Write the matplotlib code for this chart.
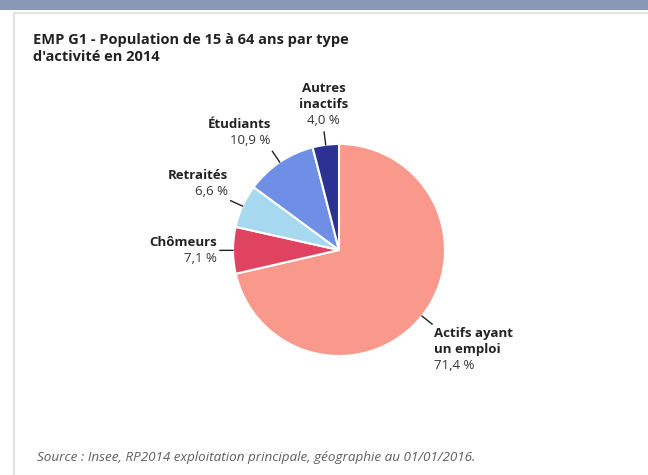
import numpy as np
import matplotlib
matplotlib.use('Agg')
import matplotlib.pyplot as plt
from matplotlib.patches import Rectangle

plt.rcParams['font.family'] = ['Open Sans', 'DejaVu Sans']

labels = ['Actifs ayant\nun emploi', 'Chômeurs', 'Retraités', 'Étudiants', 'Autres\ninactifs']
values = [71.4, 7.1, 6.6, 10.9, 4.0]
colors = ['#f9998b', '#e0435f', '#a6d8ef', '#6f8fe6', '#2d3193']

W, H = 648, 475
fig = plt.figure(figsize=(W / 100, H / 100), dpi=100, facecolor='white')
ax = fig.add_axes([0, 0, 1, 1])
ax.set_xlim(0, W)
ax.set_ylim(0, H)
ax.set_aspect('equal')
ax.axis('off')


def py(y):
    # pixel row (top-down) to axis y
    return H - y


# page header band and card frame
ax.add_patch(Rectangle((0, py(10)), W, 10, color='#8899b7', lw=0, zorder=0))
ax.add_patch(Rectangle((14, py(490)), W + 10, 477, facecolor='white',
                       edgecolor='#e4e4e4', lw=1.5, zorder=0))

ax.text(33, py(48.5), "EMP G1 - Population de 15 à 64 ans par type\nd'activité en 2014",
        fontsize=10.5, fontweight='bold', color='#222222', ha='left', va='center',
        linespacing=1.35)

cx, cy, r = 339, py(250), 106
wedges, _ = ax.pie(values, colors=colors, startangle=90, counterclock=False,
                   center=(cx, cy), radius=r, frame=True,
                   wedgeprops=dict(edgecolor='white', linewidth=1.5))
ax.set_xlim(0, W)
ax.set_ylim(0, H)
ax.axis('off')

for w, lab, val in zip(wedges, labels, values):
    ang = np.deg2rad((w.theta1 + w.theta2) / 2)
    ux, uy = np.cos(ang), np.sin(ang)
    ax.plot([cx + ux * r, cx + ux * (r + 13)], [cy + uy * r, cy + uy * (r + 13)],
            color='#222222', lw=1)
    ha = 'left' if ux > 0.3 else ('right' if ux < -0.3 else 'center')
    va = 'bottom' if uy > 0.3 else ('top' if uy < -0.3 else 'center')
    tx, ty = cx + ux * (r + 16), cy + uy * (r + 16)
    pct = f"{val:.1f}".replace('.', ',') + ' %'
    # bold category name stacked over the regular percentage
    block = [(line, 'bold', '#222222') for line in lab.split('\n')] + [(pct, 'normal', '#333333')]
    step = 16
    total = step * len(block)
    if va == 'bottom':
        top = ty + total
    elif va == 'top':
        top = ty
    else:
        top = ty + total / 2
    for i, (txt, fw, col) in enumerate(block):
        ax.text(tx, top - step * (i + 0.5), txt, fontsize=9.5, fontweight=fw,
                color=col, ha=ha, va='center')

ax.text(37, py(458), 'Source : Insee, RP2014 exploitation principale, géographie au 01/01/2016.',
        fontsize=9.7, fontstyle='italic', color='#5f5f5f', ha='left', va='center')

fig.savefig('out.png', dpi=100, facecolor='white')
